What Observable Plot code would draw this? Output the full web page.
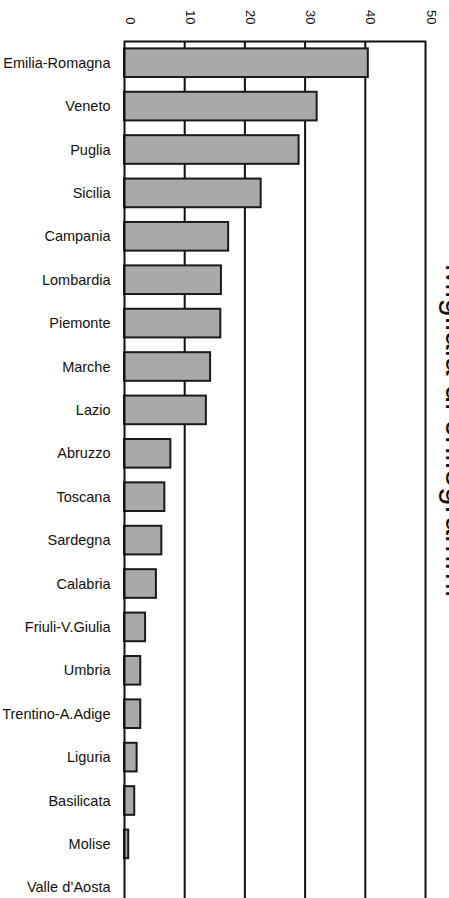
<!DOCTYPE html>
<html>
<head>
<meta charset="utf-8">
<script src="https://cdn.jsdelivr.net/npm/d3@7"></script>
<script src="https://cdn.jsdelivr.net/npm/@observablehq/plot@0.6"></script>
<style>
  html, body { margin: 0; padding: 0; background: #fff; }
  #chart { width: 449px; height: 898px; overflow: hidden; }
</style>
</head>
<body>
<div id="chart"></div>
<script>
const regions = ["Emilia-Romagna", "Veneto", "Puglia", "Sicilia", "Campania", "Lombardia", "Piemonte", "Marche", "Lazio", "Abruzzo", "Toscana", "Sardegna", "Calabria", "Friuli-V.Giulia", "Umbria", "Trentino-A.Adige", "Liguria", "Basilicata", "Molise", "Valle d\u2019Aosta"];
const values = [40.5, 32, 29, 22.7, 17.3, 16.1, 16, 14.3, 13.6, 7.7, 6.7, 6.2, 5.3, 3.5, 2.7, 2.7, 2.1, 1.7, 0.7, 0];
const xTicks = [0, 10, 20, 30, 40, 50];
const gridTicks = [10, 20, 30, 40];
const axisLabel = "Migliaia di chilogrammi";

const data = regions.map((r, i) => ({region: r, value: values[i]}));

const chart = Plot.plot({
  width: 449,
  height: 898,
  marginLeft: 124,
  marginRight: 24,
  marginTop: 41,
  marginBottom: -11,
  style: {fontFamily: "Arial, 'Liberation Sans', sans-serif", fontSize: "14.5px", background: "#fff", color: "#111"},
  x: {domain: [0, 50], axis: null},
  y: {domain: regions, range: [41, 909], paddingInner: 0.34, paddingOuter: 0.17, align: 0.5, round: false, label: null, tickSize: 0, tickPadding: 14},
  marks: [
    Plot.ruleX(gridTicks, {stroke: "#111", strokeWidth: 2}),
    Plot.barX(data, {x: "value", y: "region", fill: "#a9a9a9", stroke: "#1a1a1a", strokeWidth: 2}),
    Plot.frame({stroke: "#111", strokeWidth: 2}),
    Plot.text(xTicks, {x: d => d, text: d => String(d), frameAnchor: "top", rotate: 90, textAnchor: "end", lineAnchor: "bottom", dy: -17, dx: 1, fontSize: 13, fill: "#111"}),
    Plot.text([axisLabel], {text: d => d, frameAnchor: "right", rotate: 90, textAnchor: "middle", lineAnchor: "bottom", dx: 20, dy: -45, fontSize: 33, fill: "#111"})
  ]
});
document.getElementById("chart").appendChild(chart);
</script>
</body>
</html>
